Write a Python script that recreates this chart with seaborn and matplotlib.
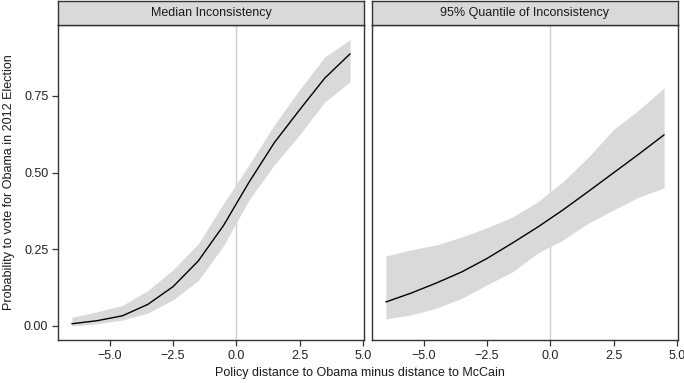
import numpy as np
import pandas as pd
import seaborn as sns
import matplotlib
matplotlib.use("Agg")
import matplotlib.pyplot as plt

# ---- data ----
x_vals = [-6.5, -5.5, -4.5, -3.5, -2.5, -1.5, -0.5, 0.5, 1.5, 2.5, 3.5, 4.5]

median_fit = [0.007, 0.017, 0.033, 0.070, 0.128, 0.212, 0.328, 0.468, 0.597, 0.704, 0.808, 0.887]
median_upper = [0.028, 0.046, 0.067, 0.115, 0.183, 0.268, 0.400, 0.525, 0.655, 0.770, 0.877, 0.933]
median_lower = [0.000, 0.007, 0.019, 0.042, 0.085, 0.148, 0.262, 0.410, 0.525, 0.623, 0.730, 0.796]

q95_fit = [0.078, 0.107, 0.140, 0.176, 0.220, 0.270, 0.322, 0.378, 0.438, 0.499, 0.560, 0.623]
q95_upper = [0.228, 0.248, 0.264, 0.290, 0.320, 0.355, 0.404, 0.470, 0.550, 0.640, 0.704, 0.776]
q95_lower = [0.023, 0.036, 0.058, 0.090, 0.134, 0.176, 0.237, 0.280, 0.335, 0.378, 0.420, 0.450]

panel_titles = ["Median Inconsistency", "95% Quantile of Inconsistency"]
x_ticks = [-5.0, -2.5, 0.0, 2.5, 5.0]
y_ticks = [0.00, 0.25, 0.50, 0.75]
x_label = "Policy distance to Obama minus distance to McCain"
y_label = "Probability to vote for Obama in 2012 Election"

sns.set_theme(style="white")
plt.rcParams['font.family'] = ['Liberation Sans', 'DejaVu Sans']

W, H = 684, 383
fig = plt.figure(figsize=(W / 100, H / 100), dpi=100)

def fx(px):
    return px / W

def fy(py):
    return 1 - py / H

panels = [
    (58, 364, median_fit, median_lower, median_upper),
    (372, 678, q95_fit, q95_lower, q95_upper),
]
top_px, bot_px = 25, 340
strip_top = 1

edge = "#333333"
for i, (l, r, fit, lo, hi) in enumerate(panels):
    ax = fig.add_axes([fx(l), fy(bot_px), fx(r - l), (bot_px - top_px) / H])
    ax.axvline(0, color="#d0d0d0", lw=1.0, zorder=1)
    ax.fill_between(x_vals, lo, hi, color="#d9d9d9", lw=0, zorder=2)
    df = pd.DataFrame({"x": x_vals, "y": fit})
    sns.lineplot(data=df, x="x", y="y", ax=ax, color="black", lw=1.0, zorder=3)
    ax.set_xlim(-7.05, 5.05)
    ax.set_ylim(-0.046, 0.981)
    ax.set_xticks(x_ticks)
    ax.set_xticklabels([f"{t:.1f}".replace("-", "\u2212") for t in x_ticks])
    ax.set_yticks(y_ticks)
    if i == 0:
        ax.set_yticklabels([f"{t:.2f}" for t in y_ticks])
    else:
        ax.set_yticklabels([])
        ax.tick_params(axis="y", length=0)
    ax.set_xlabel("")
    ax.set_ylabel("")
    ax.tick_params(axis="both", direction="out", length=4, width=0.9,
                   color=edge, labelsize=9, labelcolor="#222222", pad=3,
                   bottom=True, left=(i == 0))
    for s in ax.spines.values():
        s.set_color(edge)
        s.set_linewidth(1.0)
    ax.grid(False)
    # strip
    sax = fig.add_axes([fx(l), fy(top_px), fx(r - l), (top_px - strip_top) / H])
    sax.set_xticks([]); sax.set_yticks([])
    sax.set_facecolor("#d9d9d9")
    for s in sax.spines.values():
        s.set_color(edge)
        s.set_linewidth(1.0)
    sax.text(0.5, 0.5, panel_titles[i], ha="center", va="center",
             fontsize=9, color="#1a1a1a", transform=sax.transAxes)

fig.text(fx(360), fy(373), x_label, ha="center", va="center", fontsize=9, color="#1a1a1a")
fig.text(fx(9), fy((top_px + bot_px) / 2), y_label, ha="center", va="center",
         rotation=90, fontsize=9, color="#1a1a1a")

fig.savefig("out.png", dpi=100)
